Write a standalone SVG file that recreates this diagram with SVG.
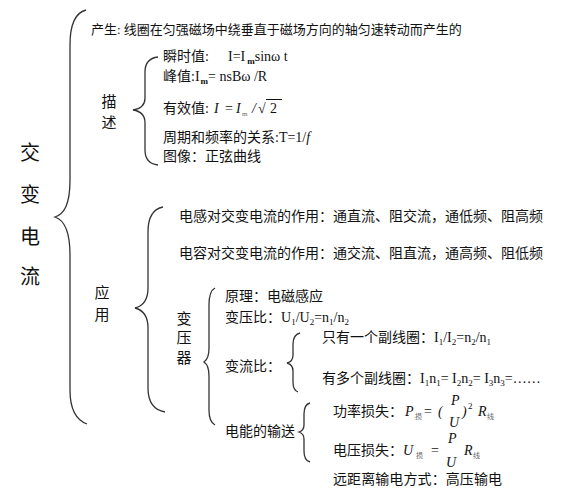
<svg xmlns="http://www.w3.org/2000/svg" width="564" height="500" viewBox="0 0 564 500">
<style>
text{font-family:"Liberation Serif","Noto Sans CJK SC",serif;fill:#111;font-size:14px}
.t13{font-size:13px}
.big{font-size:20px;text-anchor:middle}
.lab{font-size:15px;text-anchor:middle}
.it{font-style:italic}
.sub{font-size:9px}
.tiny{font-size:7px;fill:#666}
.brace{fill:none;stroke:#333;stroke-width:1.3}
</style>
<rect width="564" height="500" fill="#fff"/>
<g id="connectors">
<path class="brace" d="M86,10 C74,13 70,28 70,45 L70,180 C70,205 64,214 55,217 C64,220 70,230 70,255 L70,390 C70,410 76,420 87,424"/>
<path class="brace" d="M158,57 C149,58 145,63 145,72 L145,98 C145,106 140,109 133,110 C140,111 145,115 145,123 L145,150 C145,159 149,164 158,165"/>
<path class="brace" d="M163,207 C153,209 148,218 148,232 L148,288 C148,300 143,306 135,308 C143,310 148,316 148,328 L148,388 C148,402 154,410 165,412"/>
<path class="brace" d="M215,288 C211,290 209,296 209,305 L209,348 C209,356 207,360 204,362 C207,364 209,368 209,376 L209,410 C209,419 211,423 215,425"/>
<path class="brace" d="M300,333 C296,334 293,338 293,344 L293,355 C293,360 291,362 287,363 C291,364 293,366 293,371 L293,382 C293,388 295,391 298,392"/>
<path class="brace" d="M310,403 C306,404 304,408 304,414 L304,425 C304,429 302,431 299,432 C302,433 304,435 304,439 L304,451 C304,457 306,461 310,462"/>
</g>
<g id="root">
<text class="big" x="30" y="160">交</text>
<text class="big" x="30" y="202">变</text>
<text class="big" x="30" y="244">电</text>
<text class="big" x="30" y="284">流</text>
</g>
<g id="chansheng">
<text class="t13" x="91" y="34">产生: 线圈在匀强磁场中绕垂直于磁场方向的轴匀速转动而产生的</text>
</g>
<g id="miaoshu">
<text class="lab" x="109" y="107">描</text>
<text class="lab" x="109" y="128">述</text>
</g>
<g id="shunshi">
<text x="163" y="61">瞬时值:<tspan x="228">I=I</tspan><tspan class="sub" font-weight="bold" dx="2" dy="3">m</tspan><tspan dy="-3">sin</tspan><tspan>ω t</tspan></text>
</g>
<g id="fengzhi">
<text x="163" y="81">峰值:I<tspan class="sub" font-weight="bold" dx="1" dy="3">m</tspan><tspan dy="-3">= nsBω /R</tspan></text>
</g>
<g id="youxiao">
<text x="163" y="113">有效值:</text>
<text class="it" x="214" y="113">I</text>
<text x="225" y="113">=</text>
<text class="it" x="236" y="113">I</text>
<text class="tiny" x="242" y="116">m</text>
<text class="it" x="252" y="113">/</text>
<text x="258" y="113" font-size="16">√</text>
<line x1="266" y1="99.5" x2="282" y2="99.5" stroke="#111" stroke-width="1"/>
<text x="270" y="113">2</text>
</g>
<g id="zhouqi">
<text x="163" y="142">周期和频率的关系:T=1/<tspan class="it">f</tspan></text>
</g>
<g id="tuxiang">
<text x="163" y="161">图像：正弦曲线</text>
</g>
<g id="yingyong">
<text class="lab" x="102" y="298" font-size="14">应</text>
<text class="lab" x="102" y="320" font-size="14">用</text>
</g>
<g id="diangan">
<text x="179" y="221">电感对交变电流的作用：通直流、阻交流，通低频、阻高频</text>
</g>
<g id="dianrong">
<text x="179" y="258">电容对交变电流的作用：通交流、阻直流，通高频、阻低频</text>
</g>
<g id="bianyaqi">
<text class="lab" x="184" y="324">变</text>
<text class="lab" x="184" y="343">压</text>
<text class="lab" x="184" y="363">器</text>
</g>
<g id="yuanli">
<text x="225" y="301">原理：电磁感应</text>
</g>
<g id="bianyabi">
<text x="225" y="322">变压比：U<tspan class="sub" dy="3">1</tspan><tspan dy="-3">/U</tspan><tspan class="sub" dy="3">2</tspan><tspan dy="-3">=n</tspan><tspan class="sub" dy="3">1</tspan><tspan dy="-3">/n</tspan><tspan class="sub" dy="3">2</tspan></text>
</g>
<g id="bianliubi">
<text x="225" y="371">变流比：</text>
</g>
<g id="zhiyou">
<text x="322" y="342">只有一个副线圈：I<tspan class="sub" dy="3">1</tspan><tspan dy="-3">/I</tspan><tspan class="sub" dy="3">2</tspan><tspan dy="-3">=n</tspan><tspan class="sub" dy="3">2</tspan><tspan dy="-3">/n</tspan><tspan class="sub" dy="3">1</tspan></text>
</g>
<g id="youduo">
<text x="322" y="383">有多个副线圈：I<tspan class="sub" dy="3">1</tspan><tspan dy="-3">n</tspan><tspan class="sub" dy="3">1</tspan><tspan dy="-3">= I</tspan><tspan class="sub" dy="3">2</tspan><tspan dy="-3">n</tspan><tspan class="sub" dy="3">2</tspan><tspan dy="-3">= I</tspan><tspan class="sub" dy="3">3</tspan><tspan dy="-3">n</tspan><tspan class="sub" dy="3">3</tspan><tspan dy="-3">=……</tspan></text>
</g>
<g id="shusong">
<text x="225" y="436">电能的输送</text>
</g>
<g id="gonglv">
<text x="333" y="416">功率损失：</text>
<text class="it" x="405" y="416">P</text>
<text class="tiny" x="415" y="419">损</text>
<text x="424" y="416">=</text>
<text class="it" x="438" y="416">(</text>
<text class="it" x="451" y="405">P</text>
<text class="it" x="449" y="427">U</text>
<text class="it" x="462" y="416">)</text>
<text class="sub" x="468" y="409">2</text>
<text class="it" x="478" y="416">R</text>
<text class="tiny" x="487" y="419">线</text>
</g>
<g id="dianya">
<text x="333" y="455">电压损失：</text>
<text class="it" x="403" y="455">U</text>
<text class="tiny" x="416" y="458">损</text>
<text x="431" y="455">=</text>
<text class="it" x="448" y="443">P</text>
<text class="it" x="446" y="467">U</text>
<text class="it" x="464" y="455">R</text>
<text class="tiny" x="473" y="458">线</text>
</g>
<g id="yuanju">
<text x="333" y="484" textLength="169">远距离输电方式：高压输电</text>
</g>
</svg>
